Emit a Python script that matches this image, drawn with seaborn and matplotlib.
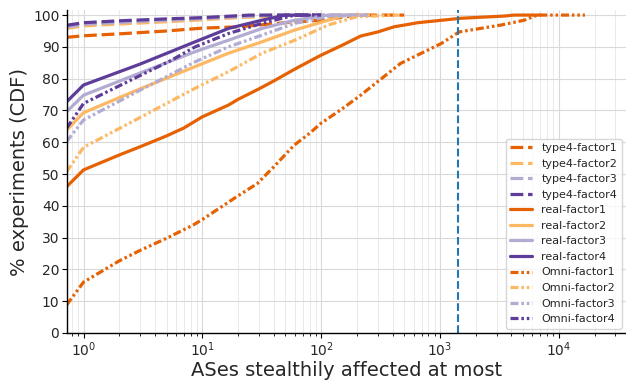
import numpy as np
import pandas as pd
import matplotlib
matplotlib.use("Agg")
import matplotlib.pyplot as plt
import seaborn as sns

# ---- CDF series: x = ASes stealthily affected (at most), y = % of experiments ----
type4_f1_x = [0.72, 1, 2, 5, 10, 20, 50, 100, 150, 200, 500]
type4_f1_y = [93.0, 93.5, 94.1, 95.0, 95.9, 96.3, 97.6, 98.4, 99.3, 100, 100]
type4_f2_x = [0.72, 1, 2, 5, 10, 20, 40, 60, 150]
type4_f2_y = [95.8, 96.6, 97.2, 97.9, 98.5, 99.2, 99.7, 100, 100]
type4_f3_x = [0.72, 1, 2, 5, 10, 20, 40, 250]
type4_f3_y = [96.2, 97.1, 97.7, 98.4, 98.9, 99.5, 100, 100]
type4_f4_x = [0.72, 1, 2, 5, 10, 25, 100]
type4_f4_y = [96.8, 97.6, 98.2, 98.8, 99.2, 100, 100]

real_f1_x = [0.72, 1, 2, 3, 5, 7, 10, 16.6, 20, 30, 40, 60, 80, 100, 150,
             215, 300, 410, 650, 1500, 3500, 4200, 7000]
real_f1_y = [46.0, 51.3, 56.0, 58.6, 62.0, 64.5, 68.0, 71.7, 73.5, 76.8, 79.3,
             83.0, 85.5, 87.4, 90.5, 93.4, 94.7, 96.3, 97.6, 99.0, 99.7, 100, 100]
real_f2_x = [0.72, 1, 3, 8.7, 16.6, 31.8, 60, 115, 160, 250]
real_f2_y = [63.8, 69.3, 76.8, 83.8, 88.0, 91.6, 95.3, 98.4, 100, 100]
real_f3_x = [0.72, 1, 3, 8.7, 16.6, 31.8, 60, 115, 200]
real_f3_y = [69.6, 74.8, 81.8, 88.5, 92.1, 95.8, 98.4, 100, 100]
real_f4_x = [0.72, 1, 3, 8.7, 16.6, 31.8, 50, 80]
real_f4_y = [72.7, 78.0, 84.6, 91.6, 95.8, 98.4, 100, 100]

omni_f1_x = [0.72, 1, 2, 3, 5, 8.4, 10, 19.5, 29, 40, 59, 81, 100, 150, 215,
             466, 1030, 1450, 3300, 5130, 6260, 7000, 16600]
omni_f1_y = [8.8, 16.0, 22.7, 26.0, 29.8, 34.0, 35.7, 42.9, 47.0, 52.3, 59.0,
             63.0, 66.0, 70.5, 74.8, 84.8, 91.1, 94.7, 96.9, 98.4, 99.7, 100, 100]
omni_f2_x = [0.72, 1, 3, 8.7, 16.6, 31.8, 60, 115, 200, 450]
omni_f2_y = [50.7, 58.4, 67.8, 77.0, 82.2, 88.0, 92.1, 96.9, 99.5, 100]
omni_f3_x = [0.72, 1, 3, 8.7, 16.6, 31.8, 60, 115, 200, 250]
omni_f3_y = [60.2, 67.0, 76.4, 85.3, 90.0, 93.7, 97.4, 99.5, 100, 100]
omni_f4_x = [0.72, 1, 3, 5.5, 8.7, 16.6, 31.8, 60, 100]
omni_f4_y = [64.4, 72.2, 81.0, 85.8, 90.0, 94.2, 97.4, 100, 100]

threshold = 1420

labels = ["type4-factor1", "type4-factor2", "type4-factor3", "type4-factor4",
          "real-factor1", "real-factor2", "real-factor3", "real-factor4",
          "Omni-factor1", "Omni-factor2", "Omni-factor3", "Omni-factor4"]
series = [(type4_f1_x, type4_f1_y), (type4_f2_x, type4_f2_y),
          (type4_f3_x, type4_f3_y), (type4_f4_x, type4_f4_y),
          (real_f1_x, real_f1_y), (real_f2_x, real_f2_y),
          (real_f3_x, real_f3_y), (real_f4_x, real_f4_y),
          (omni_f1_x, omni_f1_y), (omni_f2_x, omni_f2_y),
          (omni_f3_x, omni_f3_y), (omni_f4_x, omni_f4_y)]

palette = ["#e66101", "#fdb863", "#b2abd2", "#5e3c99"]
styles = {
    "type4": (0, (4, 1.5)),
    "real": "-",
    "Omni": (0, (2.5, 0.9, 0.8, 0.9, 0.8, 0.9)),
}

sns.set_style("ticks")
plt.rcParams["font.family"] = ["DejaVu Sans"]

fig = plt.figure(figsize=(6.26, 3.83), dpi=100)
ax = fig.add_axes([67 / 626, 50 / 383, (626 - 67) / 626, (333 - 10) / 383])

for lab, (xs, ys) in zip(labels, series):
    kind = lab.split("-")[0]
    k = int(lab[-1]) - 1
    df = pd.DataFrame({"x": xs, "y": ys})
    sns.lineplot(data=df, x="x", y="y", ax=ax, color=palette[k],
                 linewidth=2.3, linestyle=styles[kind], label=lab,
                 estimator=None, sort=False)

ax.axvline(threshold, color="#1f77b4", linestyle="--", linewidth=1.5)

ax.set_xscale("log")
ax.set_xlim(0.726, 36800)
ax.set_ylim(0, 101.6)
ax.set_yticks(np.arange(0, 101, 10))

ax.grid(True, which="major", color="#d9d9d9", linewidth=0.8)
ax.grid(True, which="minor", axis="x", color="#e6e6e6", linewidth=0.6)
ax.set_axisbelow(True)

for s in ["top", "right"]:
    ax.spines[s].set_visible(False)
for s in ["left", "bottom"]:
    ax.spines[s].set_color("black")
    ax.spines[s].set_linewidth(1.0)

ax.tick_params(axis="both", which="major", labelsize=10, length=3.5,
               direction="out", color="black", pad=2)
ax.tick_params(axis="x", which="minor", length=2, color="black")

ax.set_xlabel("ASes stealthily affected at most", fontsize=14, labelpad=1)
ax.set_ylabel("% experiments (CDF)", fontsize=14, labelpad=3)

ax.legend(loc="lower right", fontsize=8, labelspacing=0.5,
          handlelength=2.0, borderaxespad=0.4)

fig.savefig("out.png", dpi=100)
